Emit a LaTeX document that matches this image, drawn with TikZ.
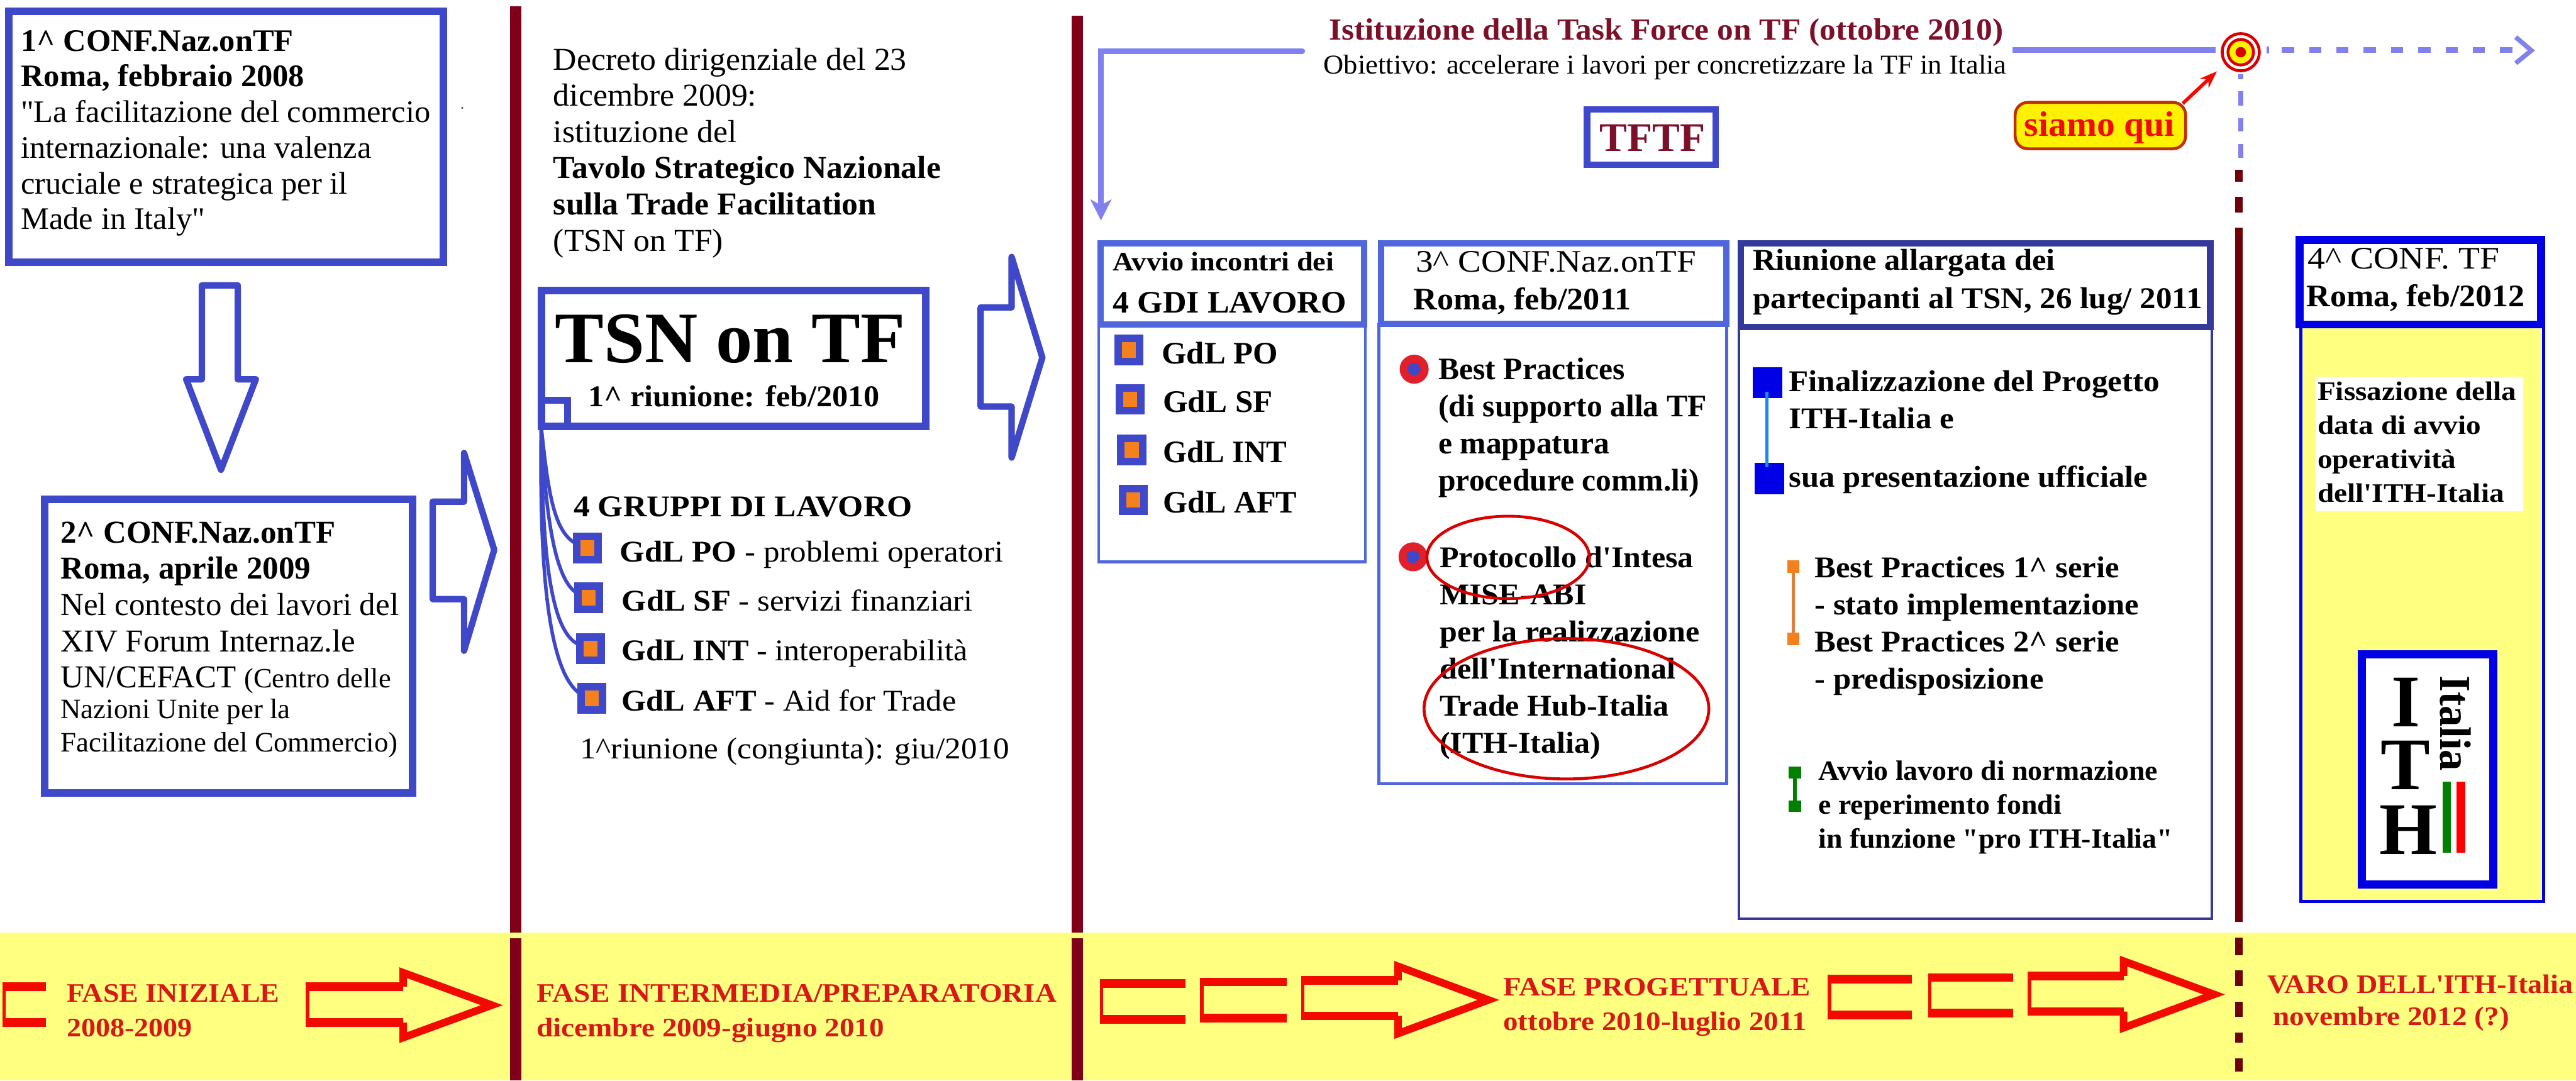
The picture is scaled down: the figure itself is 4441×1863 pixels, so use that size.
\documentclass[tikz,border=0pt]{standalone}
\usepackage{graphicx}
\usepackage{array}
\usepackage{fontspec}
\usetikzlibrary{arrows.meta}
\setmainfont{Liberation Serif}
\newfontfamily\mainrm{Liberation Serif}
\definecolor{boxblue}{HTML}{3E48C8}
\definecolor{paneblue}{HTML}{4F66DC}
\definecolor{navy}{HTML}{333A9A}
\definecolor{pureblue}{HTML}{0000E6}
\definecolor{darkred}{HTML}{80001A}
\definecolor{maroon}{HTML}{6E0008}
\definecolor{lightarrow}{HTML}{8080EE}
\definecolor{band}{HTML}{FFFF80}
\definecolor{titlered}{HTML}{7B1028}
\definecolor{vivid}{HTML}{F20A00}
\definecolor{phase}{HTML}{D81818}
\definecolor{markorange}{HTML}{F5801E}
\definecolor{bulletred}{HTML}{E0202A}
\newcommand\ca{\textasciicircum}
\tikzset{
  txt/.style={anchor=base west,inner sep=0pt,outer sep=0pt},
  panel/.style={anchor=north west,inner sep=0pt,outer sep=0pt,draw},
  confbox/.style={panel,draw=boxblue,line width=13pt},
  hollow/.style={draw=boxblue,line width=11pt,line join=round},
  panehead/.style={panel,draw=paneblue,fill=white,line width=11pt},
  panebody/.style={panel,draw=paneblue,line width=5pt},
  sq/.style={inner sep=0pt,outer sep=0pt,rectangle},
  gdlmark/.style={sq,draw=boxblue,fill=markorange,line width=13pt,minimum width=37pt,minimum height=40pt},
  tree/.style={draw=boxblue,line width=6pt},
  ring/.style={draw=red!85!black,line width=5pt},
  divider/.style={darkred,line width=20pt},
  thirdline/.style={maroon,line width=13pt},
  flow/.style={lightarrow,line width=10pt},
  redcircle/.style={draw=red!85!black,line width=5pt},
  redthin/.style={vivid,line width=6pt},
  redbar/.style={vivid,line width=15pt},
  redhead/.style={vivid,line width=13pt,line join=miter}
}
% name x y width size leading lines
\newcommand\TB[7]{\node[txt] (#1) at (#2,#3) {\mainrm\fontsize{#5}{#6}\selectfont\resizebox{#4pt}{\height}{\begin{tabular}[t]{@{}l@{}}#7\end{tabular}}};}
% name x1 y1 x2 y2 style
\newcommand\BX[6]{\node[#6,minimum width={(#4-#2)*1pt},minimum height={(#5-#3)*1pt}] (#1) at (#2,#3) {};}
\newcommand\RedStub[4]{%
  \draw[redthin] (#1,#3) -- (#1,#4);
  \draw[redbar] ({#1-3},#3) -- (#2,#3);
  \draw[redbar] ({#1-3},#4) -- (#2,#4);}
% xl xn xt ybt ybb yht yhb
\newcommand\RedArrow[7]{%
  \draw[redthin] (#1,#4) -- (#1,#5);
  \draw[redbar] ({#1-3},#4) -- (#2,#4);
  \draw[redbar] ({#1-3},#5) -- (#2,#5);
  \draw[redhead] (#2,#4) -- (#2,#6) -- (#3,{(#6+#7)/2}) -- (#2,#7) -- (#2,#5);}
\begin{document}
\begin{tikzpicture}[x=1pt,y=-1pt]
\useasboundingbox (0,0) rectangle (4441,1863);
\fill[white] (0,0) rectangle (4441,1863);
\fill[band] (0,1608) rectangle (4441,1863);
% dividers
\draw[divider] (889,11) -- (889,1608);
\draw[divider] (889,1618) -- (889,1863);
\draw[divider] (1857,27) -- (1857,1608);
\draw[divider] (1857,1618) -- (1857,1863);
\draw[thirdline] (3860,393) -- (3860,1590);
\foreach \a/\b in {293/313,339/366,1617/1647,1673/1700,1727/1753,1780/1798,1825/1847}
  \draw[thirdline] (3860,\a) -- (3860,\b);
% first column
\BX{conf1}{15}{20}{764}{452}{confbox}
\TB{conf1t}{36}{88}{706}{54}{61.5}{\textbf{1\ca{} CONF.Naz.onTF}\\\textbf{Roma, febbraio 2008}\\"La facilitazione del commercio\\internazionale: una valenza\\cruciale e strategica per il\\Made in Italy"}
\fill[black!70] (797,186) circle (2pt);
\draw[hollow] (348,654) -- (348,492) -- (410,492) -- (410,654) -- (441,654) -- (381,810) -- (321,654) -- cycle;
\BX{conf2}{76.5}{861}{711}{1367}{confbox}
\TB{conf2t}{104.5}{936}{583}{55}{62.5}{\textbf{2\ca{} CONF.Naz.onTF}\\\textbf{Roma, aprile 2009}\\Nel contesto dei lavori del\\XIV Forum Internaz.le\\UN/CEFACT {\fontsize{48}{48}\selectfont(Centro delle}}
\TB{conf2u}{104.5}{1239}{581}{48.5}{57}{Nazioni Unite per la\\Facilitazione del Commercio)}
\draw[hollow] (746,865) -- (800,865) -- (800,781) -- (852,948) -- (800,1122) -- (800,1033) -- (746,1033) -- cycle;
% second column
\TB{decreto}{954}{120.7}{668}{55}{62.4}{Decreto dirigenziale del 23\\dicembre 2009:\\istituzione del\\\textbf{Tavolo Strategico Nazionale}\\\textbf{sulla Trade Facilitation}\\(TSN on TF)}
\BX{tsn}{933}{500.5}{1596}{735}{confbox}
\BX{tsnsq}{933}{690}{978}{735}{confbox,line width=12pt}
\TB{tsnt}{957}{625}{604}{125}{125}{\textbf{TSN on TF}}
\TB{tsnm}{1014.5}{701.4}{502}{52}{60}{\textbf{1\ca{} riunione: feb/2010}}
\TB{gruppi}{989}{891}{583.6}{52}{60}{\textbf{4 GRUPPI DI LAVORO}}
\node[gdlmark] (g1) at (1012.5,944.5) {};
\node[gdlmark] (g2) at (1015,1030.5) {};
\node[gdlmark] (g3) at (1018,1118.5) {};
\node[gdlmark] (g4) at (1020.5,1204) {};
\draw[tree] (tsnsq.south west) .. controls (945,850) and (955,918) .. (g1.160);
\draw[tree] (tsnsq.south west) .. controls (940,880) and (955,1002) .. (g2.160);
\draw[tree] (tsnsq.south west) .. controls (935,900) and (940,1090) .. (g3.160);
\draw[tree] (tsnsq.south west) .. controls (930,950) and (940,1160) .. (g4.160);
\TB{g1t}{1068.8}{968.4}{661}{52}{60}{\textbf{GdL PO} - problemi operatori}
\TB{g2t}{1072}{1052.8}{605}{52}{60}{\textbf{GdL SF} - servizi finanziari}
\TB{g3t}{1072}{1138.9}{596}{52}{60}{\textbf{GdL INT} - interoperabilità}
\TB{g4t}{1072}{1226}{576.5}{52}{60}{\textbf{GdL AFT} - Aid for Trade}
\TB{riun1}{1000}{1308}{740}{52}{60}{1\ca{}riunione (congiunta): giu/2010}
\draw[hollow] (1690.6,530) -- (1744,530) -- (1744,443) -- (1797,616.5) -- (1744,789) -- (1744,701) -- (1690.6,701) -- cycle;
% top band
\TB{title}{2291.5}{69}{1162}{53}{60}{\textcolor{titlered}{\textbf{Istituzione della Task Force on TF (ottobre 2010)}}}
\TB{obiet}{2282}{127}{1177}{47}{56}{Obiettivo: accelerare i lavori per concretizzare la TF in Italia}
\BX{tftf}{2736}{189}{2958}{284}{confbox,line width=11pt}
\TB{tftft}{2758}{261}{182}{70}{70}{\textcolor{titlered}{\textbf{TFTF}}}
\coordinate (flowstart) at (2245,88);
\coordinate (flowcorner) at (1898,88);
\coordinate (flowend) at (1898,380);
\draw[flow,line cap=round,-{Stealth[length=36pt,width=36pt,inset=10pt]}] (flowstart) -- (flowcorner) -- (flowend);
% panel GdI
\BX{p1body}{1894}{559}{2354}{969}{panebody}
\BX{p1head}{1897.5}{420}{2352}{559}{panehead}
\TB{p1a}{1919}{467}{381}{46}{50}{\textbf{Avvio incontri dei}}
\TB{p1b}{1919}{539}{402}{54}{50}{\textbf{4 GDI LAVORO}}
\node[gdlmark] (m1) at (1946,603.5) {};
\node[gdlmark] (m2) at (1948.5,688.5) {};
\node[gdlmark] (m3) at (1951,775.5) {};
\node[gdlmark] (m4) at (1953.5,862) {};
\TB{m1t}{2003}{627}{200}{54}{60}{\textbf{GdL PO}}
\TB{m2t}{2005}{711}{189}{54}{60}{\textbf{GdL SF}}
\TB{m3t}{2005}{797}{214}{54}{60}{\textbf{GdL INT}}
\TB{m4t}{2005}{884.5}{231}{54}{60}{\textbf{GdL AFT}}
% panel 3 conf
\BX{p2body}{2377}{559}{2977}{1351}{panebody}
\BX{p2head}{2380.5}{420}{2976}{558}{panehead}
\TB{p2a}{2441}{469}{483}{54}{60}{3\ca{} CONF.Naz.onTF}
\TB{p2b}{2437}{534}{375}{54}{60}{\textbf{Roma, feb/2011}}
\foreach \n/\cx/\cy in {d1/2438/636.5,d2/2436/960}{
  \node[circle,inner sep=0pt,outer sep=0pt,minimum size=50pt,fill=bulletred] (\n) at (\cx,\cy) {};
  \node[circle,inner sep=0pt,outer sep=0pt,minimum size=22pt,fill=boxblue] (\n i) at (\cx,\cy) {};
}
\TB{best}{2480}{654}{462}{54}{64}{\textbf{Best Practices}\\\textbf{(di supporto alla TF}\\\textbf{e mappatura}\\\textbf{procedure comm.li)}}
\TB{proto}{2482}{978.6}{448}{52}{64}{\textbf{Protocollo d'Intesa}\\\textbf{MISE-ABI}\\\textbf{per la realizzazione}\\\textbf{dell'International}\\\textbf{Trade Hub-Italia}\\\textbf{(ITH-Italia)}}
\draw[redcircle] (2600,961) ellipse (140pt and 71pt);
\draw[redcircle] (2700.5,1222) ellipse (245.5pt and 121pt);
% panel Riunione
\BX{p3body}{2998}{563}{3813}{1584}{panebody,draw=navy}
\BX{p3head}{3001.5}{419.5}{3810.5}{563.5}{panehead,draw=navy}
\TB{p3a}{3022}{466}{521}{52}{60}{\textbf{Riunione allargata dei}}
\TB{p3b}{3022}{531.5}{775}{52}{60}{\textbf{partecipanti al TSN, 26 lug/ 2011}}
\node[sq,fill=pureblue,minimum width=51pt,minimum height=52.5pt] (b1) at (3047,659.7) {};
\node[sq,fill=pureblue,minimum width=51pt,minimum height=53.5pt] (b2) at (3050.3,825) {};
\draw[line width=5pt,color={rgb,255:red,30;green,136;blue,240}] (3046,675) -- (3046,806);
\TB{fin}{3084}{675}{639}{52}{64}{\textbf{Finalizzazione del Progetto}\\\textbf{ITH-Italia e}}
\TB{sua}{3084}{840}{618.6}{52}{60}{\textbf{sua presentazione ufficiale}}
\node[sq,fill=markorange,minimum width=21pt,minimum height=22pt] (o1) at (3091.6,977) {};
\node[sq,fill=markorange,minimum width=21pt,minimum height=21pt] (o2) at (3091.6,1101.5) {};
\draw[line width=6pt,color={rgb,255:red,224;green,128;blue,64}] (o1) -- (o2);
\TB{bp}{3128.6}{995.4}{559}{52}{64}{\textbf{Best Practices 1\ca{} serie}\\\textbf{- stato implementazione}\\\textbf{Best Practices 2\ca{} serie}\\\textbf{- predisposizione}}
\node[sq,fill=green!50!black,minimum width=21pt,minimum height=20pt] (v1) at (3094.5,1332) {};
\node[sq,fill=green!50!black,minimum width=21pt,minimum height=20pt] (v2) at (3094.5,1390) {};
\draw[line width=6pt,green!50!black] (v1) -- (v2);
\TB{avvio}{3135}{1344.6}{611}{48}{59}{\textbf{Avvio lavoro di normazione}\\\textbf{e reperimento fondi}\\\textbf{in funzione "pro ITH-Italia"}}
% panel 4 conf
\BX{p4body}{3966.5}{560}{4385}{1554.5}{panebody,draw=pureblue,fill=band}
\BX{p4head}{3964.5}{414}{4381}{559.5}{panehead,draw=pureblue,line width=14pt}
\TB{p4a}{3979}{464}{330}{54}{60}{4\ca{} CONF. TF}
\TB{p4b}{3976.6}{529}{376}{54}{60}{\textbf{Roma, feb/2012}}
\BX{fiss}{3991}{649}{4350}{881}{panel,draw=none,fill=white}
\TB{fisst}{3995.4}{690}{343}{46}{58.7}{\textbf{Fissazione della}\\\textbf{data di avvio}\\\textbf{operatività}\\\textbf{dell'ITH-Italia}}
\BX{logo}{4072}{1128}{4298.5}{1525}{panel,draw=pureblue,fill=white,line width=14pt}
\foreach \n/\t/\cx/\by in {li/I/4148/1252.5,lt/T/4147/1361,lh/H/4151.6/1473}
  \node[anchor=base,inner sep=0pt] (\n) at (\cx,\by) {\mainrm\fontsize{128}{128}\selectfont\textbf{\t}};
\node[txt,rotate=-90] (litalia) at (4207,1164.5) {\mainrm\fontsize{76}{80}\selectfont\resizebox{165pt}{\height}{\textbf{Italia}}};
\node[sq,fill=green!50!black,minimum width=14pt,minimum height=122pt] (fg) at (4218,1409) {};
\node[sq,fill=red,minimum width=15pt,minimum height=122pt] (fr) at (4242.5,1409) {};
% here marker
\coordinate (hs) at (3470,86);
\coordinate (he) at (3820,86);
\draw[flow] (hs) -- (he);
\node[circle,inner sep=0pt,outer sep=0pt,minimum size=64pt,ring,fill=white] (target) at (3863,90) {};
\node[circle,inner sep=0pt,outer sep=0pt,minimum size=44pt,ring,fill=yellow] (targetm) at (3863,90) {};
\node[circle,inner sep=0pt,outer sep=0pt,minimum size=18pt,fill=red!85!black] (targetc) at (3863,90) {};
\coordinate (ds) at (3934,86);
\coordinate (de) at (4362,86);
\draw[flow,dash pattern=on 21pt off 26pt] (ds) -- (de);
\draw[flow,line width=8pt] (4337,64) -- (4364,87) -- (4337,109);
\fill[lightarrow] (3908,80) rectangle (3912,92);
\foreach \a/\b in {128/137,157/182,204/227,248/272}
  \draw[lightarrow,line width=9pt] (3863,\a) -- (3863,\b);
\node[anchor=north west,inner sep=0pt,outer sep=0pt,draw={rgb,255:red,192;green,48;blue,0},fill=yellow,line width=5pt,rounded corners=22pt,minimum width=294pt,minimum height=80pt] (siamo) at (3474,176.5) {};
\TB{siamot}{3490}{235}{259}{61}{61}{\textcolor{vivid}{\textbf{siamo qui}}}
\coordinate (hereptr) at (3822,123);
\draw[vivid,line width=6pt,-{Stealth[length=30pt,width=22pt]}] (siamo.north east) ++(-5,2) -- (hereptr);
% phase band
\RedStub{7}{79}{1701}{1763}
\RedArrow{530}{695}{848}{1701}{1763}{1677}{1789}
\TB{ph1}{115}{1728}{367}{46}{59}{\textcolor{phase}{\textbf{FASE INIZIALE}}\\\textcolor{phase}{\textbf{2008-2009}}}
\TB{ph2}{925}{1728}{897}{46}{59}{\textcolor{phase}{\textbf{FASE INTERMEDIA/PREPARATORIA}}\\\textcolor{phase}{\textbf{dicembre 2009-giugno 2010}}}
\RedStub{1899}{2044}{1696}{1757.5}
\RedStub{2072}{2218}{1693}{1755}
\RedArrow{2246}{2410}{2566}{1690.5}{1751.5}{1666}{1782}
\TB{ph3}{2591.6}{1717}{530}{46}{60}{\textcolor{phase}{\textbf{FASE PROGETTUALE}}\\\textcolor{phase}{\textbf{ottobre 2010-luglio 2011}}}
\RedStub{3154}{3296}{1688.5}{1749.5}
\RedStub{3327}{3471}{1685.5}{1746.5}
\RedArrow{3499}{3661}{3817}{1682.5}{1744}{1657}{1772}
\TB{ph4a}{3909}{1712.7}{527}{46}{56}{\textcolor{phase}{\textbf{VARO DELL'ITH-Italia}}}
\TB{ph4b}{3919}{1768}{407}{46}{56}{\textcolor{phase}{\textbf{novembre 2012 (?)}}}
\end{tikzpicture}
\end{document}
